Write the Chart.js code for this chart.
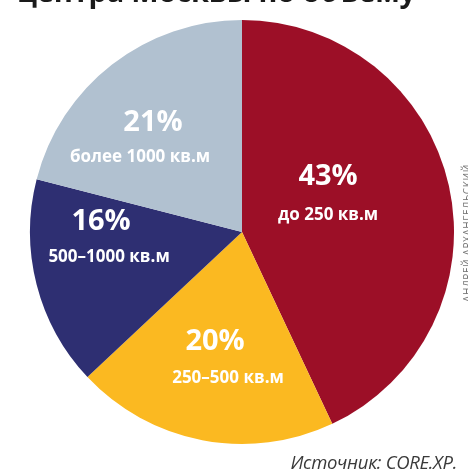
<!DOCTYPE html>
<html>
<head>
<meta charset="utf-8">
<script src="https://cdn.jsdelivr.net/npm/chart.js@4.4.1/dist/chart.umd.min.js"></script>
<style>
  html, body { margin: 0; padding: 0; background: #fff; }
  #wrap { position: relative; width: 468px; height: 475px; overflow: hidden; }
  #title { position: absolute; left: 17px; top: -24px; font: bold 29px "Open Sans", sans-serif; color: #1a1a1a; white-space: nowrap; line-height: 30px; letter-spacing: -0.2px; }
  #source { position: absolute; right: 11px; top: 449px; font: italic 18.5px "Open Sans", sans-serif; color: #3a3a3a; white-space: nowrap; letter-spacing: -0.3px; }
  #credit { position: absolute; left: 460px; top: 302px; transform: rotate(-90deg); transform-origin: 0 0; font: 10px "Open Sans", sans-serif; color: #777; white-space: nowrap; letter-spacing: 0.6px; }
</style>
</head>
<body>
<div id="wrap">
  <canvas id="pie" width="468" height="475"></canvas>
  <div id="title">центра Москвы по объему</div>
  <div id="credit">АНДРЕЙ АРХАНГЕЛЬСКИЙ</div>
  <div id="source">Источник: CORE.XP.</div>
</div>
<script>
  // data
  var labels = ['до 250 кв.м', '250–500 кв.м', '500–1000 кв.м', 'более 1000 кв.м'];
  var shares = [43, 20, 16, 21];

  var colors = ['#9c0f27', '#fbb921', '#2e2f72', '#b1c1d0'];
  // label spots as fractions of the radius: [pctX, pctY, subX, subY]
  var spots = [
    [0.406, -0.259, 0.406, -0.080],
    [-0.127, 0.519, -0.066, 0.689],
    [-0.665, -0.047, -0.627, 0.118],
    [-0.420, -0.514, -0.481, -0.354]
  ];

  var sliceText = {
    id: 'sliceText',
    afterDatasetsDraw: function(chart){
      var ctx = chart.ctx;
      var arcs = chart.getDatasetMeta(0).data;
      ctx.save();
      ctx.fillStyle = '#fff';
      ctx.textAlign = 'center';
      ctx.textBaseline = 'middle';
      arcs.forEach(function(arc, i){
        var r = arc.outerRadius;
        var s = spots[i];
        ctx.font = 'bold 29px "Open Sans", sans-serif';
        ctx.fillText(shares[i] + '%', arc.x + s[0]*r, arc.y + s[1]*r);
        ctx.font = 'bold 17px "Open Sans", sans-serif';
        ctx.fillText(labels[i], arc.x + s[2]*r, arc.y + s[3]*r);
      });
      ctx.restore();
    }
  };

  new Chart(document.getElementById('pie'), {
    type: 'pie',
    data: {
      labels: labels,
      datasets: [{
        data: shares,
        backgroundColor: colors,
        borderWidth: 0
      }]
    },
    options: {
      responsive: false,
      animation: false,
      layout: { padding: { left: 30, right: 14, top: 20, bottom: 31 } },
      plugins: {
        legend: { display: false },
        tooltip: { enabled: false }
      }
    },
    plugins: [sliceText]
  });
</script>
</body>
</html>
